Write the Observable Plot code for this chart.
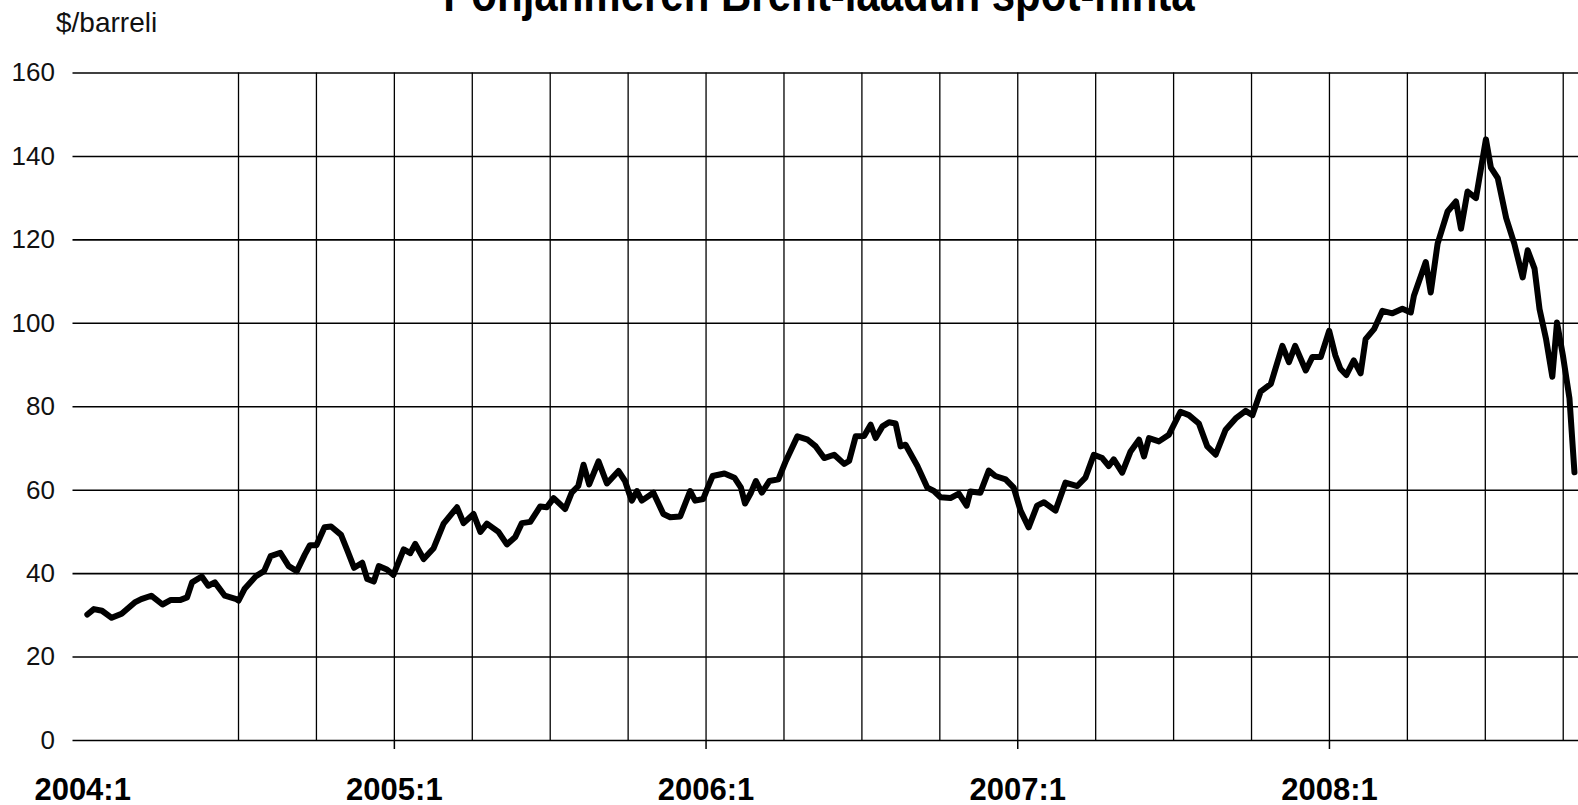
<!DOCTYPE html>
<html>
<head>
<meta charset="utf-8">
<script src="https://cdn.jsdelivr.net/npm/d3@7"></script>
<script src="https://cdn.jsdelivr.net/npm/@observablehq/plot@0.6"></script>
<style>
html, body { margin: 0; padding: 0; background: #fff; }
body { width: 1578px; height: 805px; overflow: hidden; font-family: "Liberation Sans", Arial, sans-serif; }
#header { position: relative; height: 50px; overflow: hidden; }
#title { position: absolute; left: 819px; top: -24px; transform: translateX(-50%) scaleY(1.2); transform-origin: 50% 85%; font-size: 42px; font-weight: bold; line-height: 42px; white-space: nowrap; color: #000; }
#unit { position: absolute; left: 56px; top: 9px; font-size: 28px; line-height: 28px; color: #111; }
</style>
</head>
<body>
<div id="header">
  <div id="title">Pohjanmeren Brent-laadun spot-hinta</div>
  <div id="unit">$/barreli</div>
</div>
<div id="chart"></div>
<script>
const weekTime = [
  2004.015, 2004.036, 2004.062, 2004.093, 2004.125, 2004.167, 2004.188, 2004.220, 2004.256, 2004.283,
  2004.314, 2004.335, 2004.351, 2004.382, 2004.403, 2004.424, 2004.456, 2004.493, 2004.500, 2004.519,
  2004.556, 2004.582, 2004.603, 2004.634, 2004.661, 2004.687, 2004.713, 2004.729, 2004.750, 2004.776,
  2004.797, 2004.829, 2004.850, 2004.871, 2004.897, 2004.913, 2004.934, 2004.950, 2004.976, 2004.997,
  2005.030, 2005.051, 2005.067, 2005.094, 2005.126, 2005.158, 2005.201, 2005.222, 2005.254, 2005.276,
  2005.297, 2005.334, 2005.361, 2005.388, 2005.409, 2005.436, 2005.468, 2005.489, 2005.511, 2005.548,
  2005.569, 2005.590, 2005.607, 2005.625, 2005.655, 2005.682, 2005.719, 2005.740, 2005.754, 2005.762,
  2005.778, 2005.794, 2005.831, 2005.863, 2005.885, 2005.917, 2005.949, 2005.965, 2005.991, 2006.003,
  2006.021, 2006.059, 2006.091, 2006.112, 2006.125, 2006.144, 2006.160, 2006.179, 2006.203, 2006.232,
  2006.256, 2006.293, 2006.326, 2006.352, 2006.379, 2006.411, 2006.443, 2006.459, 2006.480, 2006.507,
  2006.528, 2006.544, 2006.566, 2006.587, 2006.608, 2006.624, 2006.640, 2006.678, 2006.710, 2006.731,
  2006.752, 2006.784, 2006.811, 2006.836, 2006.848, 2006.880, 2006.907, 2006.928, 2006.961, 2006.987,
  2007.009, 2007.035, 2007.062, 2007.084, 2007.121, 2007.153, 2007.191, 2007.217, 2007.244, 2007.271,
  2007.292, 2007.308, 2007.335, 2007.362, 2007.389, 2007.405, 2007.421, 2007.453, 2007.485, 2007.522,
  2007.549, 2007.581, 2007.608, 2007.635, 2007.667, 2007.699, 2007.731, 2007.753, 2007.779, 2007.812,
  2007.849, 2007.870, 2007.890, 2007.924, 2007.945, 2007.972, 2007.999, 2008.019, 2008.035, 2008.054,
  2008.078, 2008.100, 2008.116, 2008.143, 2008.170, 2008.202, 2008.234, 2008.261, 2008.271, 2008.309,
  2008.325, 2008.347, 2008.379, 2008.406, 2008.422, 2008.443, 2008.470, 2008.502, 2008.518, 2008.540,
  2008.567, 2008.593, 2008.620, 2008.636, 2008.658, 2008.674, 2008.695, 2008.715, 2008.730, 2008.749,
  2008.770, 2008.786
];

// Brent spot price, $/barrel
const brentPrice = [
  30.2, 31.5, 31.1, 29.4, 30.4, 33.1, 33.9, 34.7, 32.6, 33.7,
  33.7, 34.3, 37.9, 39.3, 37.1, 37.9, 34.7, 33.9, 33.5, 36.3,
  39.4, 40.6, 44.2, 45.0, 41.8, 40.6, 44.6, 46.8, 46.8, 51.1,
  51.3, 49.3, 45.4, 41.4, 42.6, 38.7, 38.1, 41.8, 41.0, 39.7,
  45.8, 44.9, 47.1, 43.5, 46.1, 52.0, 55.9, 52.1, 54.3, 50.0,
  52.0, 50.0, 47.0, 48.8, 52.1, 52.4, 56.1, 55.9, 58.1, 55.5,
  59.4, 61.0, 66.1, 61.4, 66.9, 61.6, 64.6, 62.2, 59.1, 57.5,
  59.8, 57.5, 59.4, 54.3, 53.5, 53.7, 59.8, 57.5, 57.9, 60.2,
  63.4, 64.0, 63.0, 60.6, 56.8, 59.4, 62.2, 59.4, 62.2, 62.6,
  67.0, 72.9, 72.1, 70.5, 67.7, 68.5, 66.3, 67.0, 72.9, 73.0,
  75.7, 72.5, 75.3, 76.3, 76.0, 70.5, 70.9, 65.8, 60.6, 59.8,
  58.3, 58.1, 59.2, 56.3, 59.7, 59.4, 64.7, 63.4, 62.6, 60.6,
  55.1, 51.1, 56.3, 57.1, 55.1, 61.8, 61.0, 63.0, 68.5, 67.7,
  65.8, 67.4, 64.2, 69.3, 72.1, 68.1, 72.5, 71.7, 73.3, 78.8,
  78.0, 76.0, 70.5, 68.5, 74.5, 77.2, 79.0, 78.0, 83.6, 85.5,
  94.6, 90.7, 94.6, 88.7, 91.9, 91.9, 98.2, 92.3, 89.1, 87.6,
  91.1, 88.0, 96.2, 98.6, 103.0, 102.4, 103.5, 102.6, 106.6, 114.7,
  107.4, 119.1, 126.8, 129.2, 122.7, 131.6, 130.0, 144.1, 137.3, 134.8,
  125.2, 119.1, 111.0, 117.5, 113.1, 103.4, 96.2, 87.2, 100.2, 92.3,
  82.0, 64.3
];

const yTicks = [0, 20, 40, 60, 80, 100, 120, 140, 160];
const quarterGrid = [2004.5, 2004.75, 2005, 2005.25, 2005.5, 2005.75, 2006, 2006.25, 2006.5, 2006.75,
                     2007, 2007.25, 2007.5, 2007.75, 2008, 2008.25, 2008.5, 2008.75];
const yearTicks = [2004, 2005, 2006, 2007, 2008];
const yearLabels = ["2004:1", "2005:1", "2006:1", "2007:1", "2008:1"];

const data = weekTime.map((t, i) => ({ t, price: brentPrice[i] }));
const labels = yearTicks.map((year, i) => ({ year, label: yearLabels[i] }));

const font = '"Liberation Sans", Arial, sans-serif';

const chart = Plot.plot({
  width: 1578,
  height: 755,
  marginTop: 22.5,
  marginBottom: 65,
  marginLeft: 72.5,
  marginRight: 0,
  style: { fontFamily: font, background: "#fff", color: "#000", overflow: "visible" },
  x: { type: "linear", domain: [2003.969, 2008.799] },
  y: { domain: [0, 160] },
  marks: [
    Plot.gridY(yTicks, { stroke: "#000", strokeOpacity: 1, strokeWidth: 1.6 }),
    Plot.gridX(quarterGrid, { stroke: "#000", strokeOpacity: 1, strokeWidth: 1.3 }),
    Plot.axisY(yTicks, { tickSize: 0, tickPadding: 18, fontSize: 26, label: null, fill: "#111" }),
    Plot.axisX(yearTicks.slice(1), { tickSize: 9, tickFormat: () => "", label: null, strokeWidth: 1.5, stroke: "#000" }),
    Plot.text(labels, { x: "year", text: "label", frameAnchor: "bottom", dy: 59, fontSize: 31, fontWeight: "bold", fill: "#000" }),
    Plot.line(data, { x: "t", y: "price", stroke: "#000", strokeWidth: 6, strokeLinejoin: "round", strokeLinecap: "round" })
  ]
});
document.getElementById("chart").appendChild(chart);
</script>
</body>
</html>
